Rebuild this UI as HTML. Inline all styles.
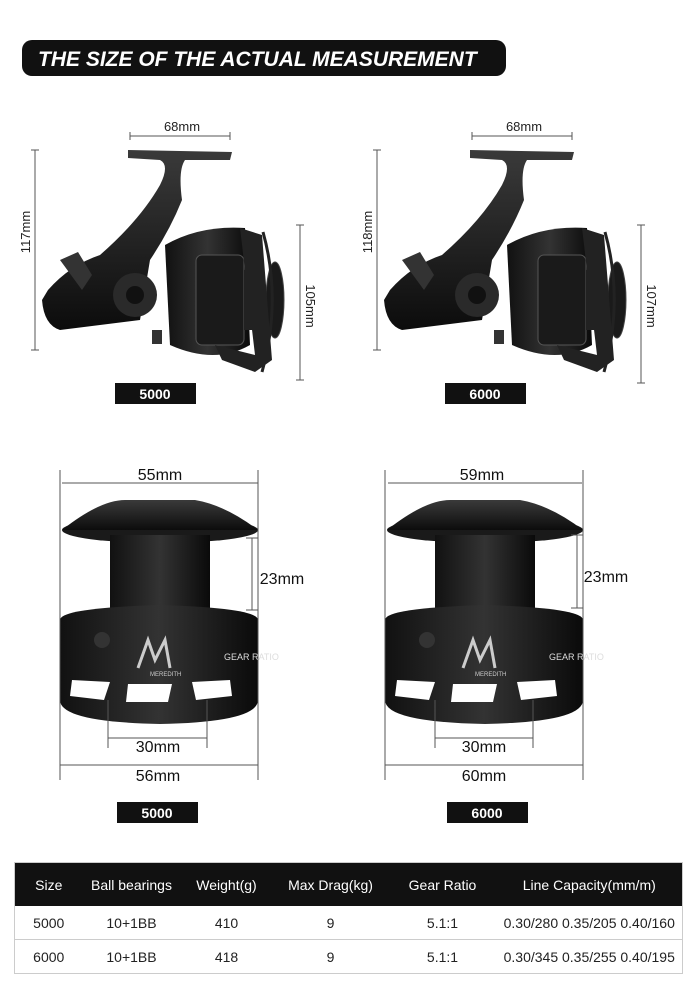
<!DOCTYPE html>
<html><head><meta charset="utf-8"><style>
body{margin:0;width:693px;height:991px;background:#fff;overflow:hidden;font-family:"Liberation Sans",sans-serif}
svg{position:absolute;left:0;top:0}
table{position:absolute;left:14px;top:862px;width:668px;border-collapse:collapse;font-size:14px;color:#222;table-layout:fixed}
th{background:#111;color:#fff;font-weight:normal;height:41px;font-size:14px}
td{height:31px;text-align:center;border-bottom:1px solid #ccc}
table{border:1px solid #ccc}
</style></head><body>
<svg width="693" height="860" viewBox="0 0 693 860">
<defs>
<linearGradient id="g" x1="0" y1="0" x2="0" y2="1"><stop offset="0" stop-color="#3a3a3a"/><stop offset="1" stop-color="#0c0c0c"/></linearGradient>
<linearGradient id="c" x1="0" y1="0" x2="1" y2="0"><stop offset="0" stop-color="#111"/><stop offset=".5" stop-color="#333"/><stop offset="1" stop-color="#0a0a0a"/></linearGradient>
<g id="reel">
<path d="M128 150 L232 152 L230 160 L185 160 Q178 170 182 200 Q170 230 150 260 L140 320 L60 330 Q44 325 42 300 L48 290 Q70 265 100 255 Q140 220 160 185 Q170 165 160 160 L128 158Z" fill="url(#g)"/>
<path d="M60 260 L78 252 L92 275 L82 290Z" fill="#333"/>
<circle cx="135" cy="295" r="22" fill="#2a2a2a"/><circle cx="135" cy="295" r="9" fill="#111"/>
<path d="M165 245 Q200 225 245 228 L250 345 Q215 365 170 345Z" fill="url(#c)"/>
<rect x="196" y="255" width="48" height="90" rx="6" fill="#1a1a1a" stroke="#555"/>
<rect x="244" y="270" width="20" height="60" fill="#222"/>
<ellipse cx="275" cy="300" rx="9" ry="38" fill="#1a1a1a" stroke="#444"/>
<path d="M240 228 L262 235 L272 360 L255 372 L222 360 L215 345 L255 355 Z" fill="#222"/>
<path d="M263 232 Q282 300 262 372" stroke="#222" stroke-width="3" fill="none"/>
<rect x="152" y="330" width="10" height="14" fill="#333"/>
</g>
<g id="spool">
<ellipse cx="160" cy="530" rx="98" ry="13" fill="#1a1a1a"/>
<path d="M62 530 Q100 500 125 500 L195 500 Q225 505 258 530Z" fill="url(#g)"/>
<rect x="110" y="535" width="100" height="78" fill="url(#c)"/>
<path d="M60 620 Q60 608 160 605 Q258 608 258 620 L258 700 Q258 722 160 724 Q60 722 60 700Z" fill="url(#c)"/>
<path d="M72 680 L110 682 L104 700 L70 696Z M128 684 L172 684 L168 702 L126 702Z M192 682 L230 680 L232 696 L196 700Z" fill="#fff"/>
<path d="M138 668 L148 640 L155 660 L165 640 L170 668" stroke="#ccc" stroke-width="3" fill="none"/>
<text x="150" y="676" font-size="6" fill="#ccc">MEREDITH</text>
<text x="224" y="660" font-size="9" fill="#ddd">GEAR RATIO</text>
<circle cx="102" cy="640" r="8" fill="#333"/>
</g>
</defs>
<rect x="22" y="40" width="484" height="36" rx="10" fill="#111"/>
<text x="38" y="66" font-size="21" font-weight="bold" font-style="italic" fill="#fff">THE SIZE OF THE ACTUAL MEASUREMENT</text>
<g stroke="#555" stroke-width="1" fill="none">
<path d="M130 136H230M130 132v8M230 132v8"/>
<path d="M35 150V350M31 150h8M31 350h8"/>
<path d="M300 225V380M296 225h8M296 380h8"/>
<path d="M472 136H572M472 132v8M572 132v8"/>
<path d="M377 150V350M373 150h8M373 350h8"/>
<path d="M641 225V383M637 225h8M637 383h8"/>
</g>
<text x="182" y="131" font-size="13" text-anchor="middle" fill="#222">68mm</text>
<text x="524" y="131" font-size="13" text-anchor="middle" fill="#222">68mm</text>
<text transform="translate(30,232) rotate(-90)" font-size="13" text-anchor="middle" fill="#222">117mm</text>
<text transform="translate(372,232) rotate(-90)" font-size="13" text-anchor="middle" fill="#222">118mm</text>
<text transform="translate(306,306) rotate(90)" font-size="13" text-anchor="middle" fill="#222">105mm</text>
<text transform="translate(647,306) rotate(90)" font-size="13" text-anchor="middle" fill="#222">107mm</text>
<use href="#reel"/>
<use href="#reel" transform="translate(342,0)"/>
<rect x="115" y="383" width="81" height="21" fill="#111"/><text x="155" y="399" font-size="14" font-weight="bold" fill="#fff" text-anchor="middle">5000</text>
<rect x="445" y="383" width="81" height="21" fill="#111"/><text x="485" y="399" font-size="14" font-weight="bold" fill="#fff" text-anchor="middle">6000</text>
<use href="#spool"/>
<use href="#spool" transform="translate(325,0)"/>
<g stroke="#555" stroke-width="1" fill="none">
<path d="M60 470V780M258 470V780M62 483H258M252 538V610M246 538h12M246 610h12M108 700V748M207 700V748M108 738H207M60 765H258"/>
<path d="M385 470V780M583 470V780M388 483H582M577 535V608M571 535h12M571 608h12M435 700V748M533 700V748M435 738H533M385 765H583"/>
</g>
<g font-size="16" fill="#111" text-anchor="middle">
<text x="160" y="480">55mm</text><text x="282" y="584">23mm</text><text x="158" y="752">30mm</text><text x="158" y="781">56mm</text>
<text x="482" y="480">59mm</text><text x="606" y="582">23mm</text><text x="484" y="752">30mm</text><text x="484" y="781">60mm</text>
</g>
<rect x="117" y="802" width="81" height="21" fill="#111"/><text x="157" y="818" font-size="14" font-weight="bold" fill="#fff" text-anchor="middle">5000</text>
<rect x="447" y="802" width="81" height="21" fill="#111"/><text x="487" y="818" font-size="14" font-weight="bold" fill="#fff" text-anchor="middle">6000</text>
</svg>
<table>
<colgroup><col style="width:68px"><col style="width:98px"><col style="width:92px"><col style="width:116px"><col style="width:108px"><col style="width:186px"></colgroup>
<tr><th>Size</th><th>Ball bearings</th><th>Weight(g)</th><th>Max Drag(kg)</th><th>Gear Ratio</th><th>Line Capacity(mm/m)</th></tr>
<tr><td>5000</td><td>10+1BB</td><td>410</td><td>9</td><td>5.1:1</td><td>0.30/280 0.35/205 0.40/160</td></tr>
<tr><td>6000</td><td>10+1BB</td><td>418</td><td>9</td><td>5.1:1</td><td>0.30/345 0.35/255 0.40/195</td></tr>
</table>
</body></html>
